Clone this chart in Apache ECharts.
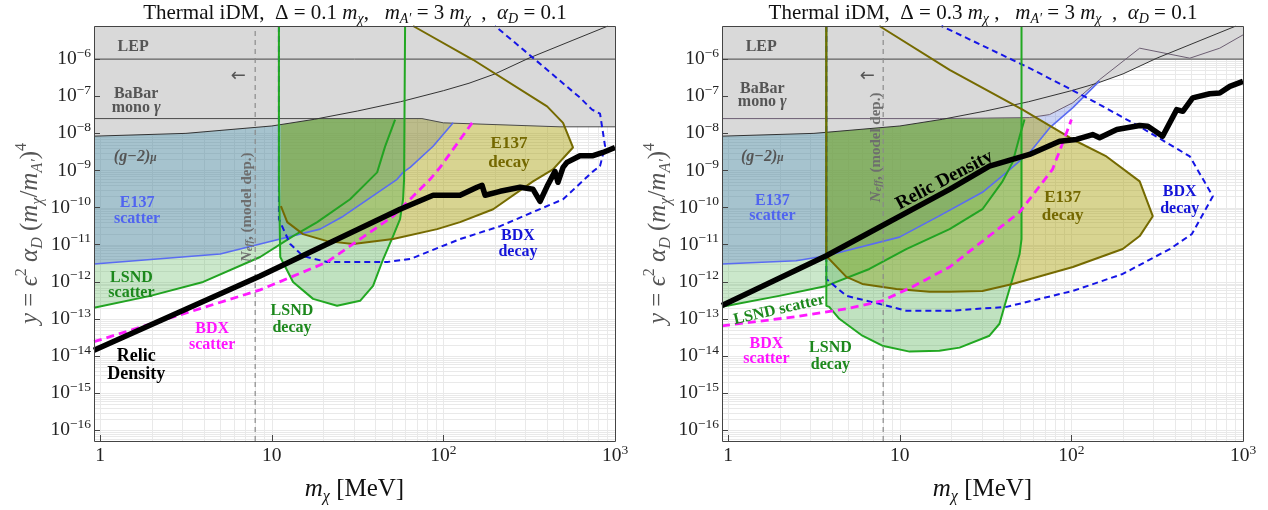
<!DOCTYPE html>
<html><head><meta charset="utf-8"><title>Thermal iDM</title>
<script src="https://cdn.jsdelivr.net/npm/echarts/dist/echarts.min.js"></script>
<style>html,body{margin:0;padding:0;background:#fff}#chart{width:1268px;height:510px}</style>
</head><body><div id="chart"></div>
<script>
// ---------------- axis ranges ----------------
const XMIN = 0.92, XMAX = 1000;
const YMIN = 5.16e-17, YMAX = 7.8e-6;
const TOP = YMAX;

const xTickValues = [1, 10, 100, 1000];
const yTickValues = [1e-16,1e-15,1e-14,1e-13,1e-12,1e-11,1e-10,1e-9,1e-8,1e-7,1e-6];
const deltaValues = ['0.1', '0.3'];

// ---------------- shared bounds ----------------
const lepBound = [[0.92,1e-6],[1000,1e-6]];
const g2Bound = [[0.92,8.4e-9],[3.16,1.0e-8],[10,1.58e-8],[17.8,2.4e-8],[31.6,4.0e-8],[56.2,7.1e-8],[100,1.41e-7],[141,2.24e-7],[200,4.0e-7],[316,1.07e-6],[562,3.16e-6],[910,7.8e-6]];
const neffMass = 8;

// ---------------- left panel (Delta = 0.1 m_chi) ----------------
const babarL = [[0.92,2.5e-8],[75,2.5e-8],[100,1.92e-8],[478,1.5e-8],[1000,1.5e-8]];
const relicL = [[0.92,1.43e-14],[8.55,1.44e-12],[55.9,9.05e-11],[87.1,2.15e-10],[125,2.15e-10],[157,3.52e-10],[168,3.98e-10],[175,2.15e-10],[214,2.75e-10],[280,3.52e-10],[333,3.11e-10],[366,1.48e-10],[402,3.75e-10],[447,9.46e-10],[465,4.8e-10],[498,1.21e-9],[525,1.65e-9],[625,2.5e-9],[745,2.5e-9],[851,3.06e-9],[1000,4.17e-9]];
const e137ScatterL = [[0.92,3.03e-12],[5.0,5.61e-12],[8.55,1.04e-11],[19.1,2.63e-11],[26.1,5.87e-11],[53.7,5.77e-10],[58.2,8.89e-10],[64,1.21e-9],[87.1,4.5e-9],[114,1.92e-8]];
const lsndScatterL = [[0.92,2.0e-13],[1.96,4.19e-13],[3.98,9.95e-13],[8.55,4.67e-12],[13.3,1.71e-11],[18.4,4.06e-11],[28.6,1.68e-10],[37.4,5.77e-10],[41.1,8.89e-10],[45.7,4.4e-9],[52.3,2.35e-8]];
const lsndDecayL = [[11.0,TOP],[11.0,5.77e-10],[11.2,4.67e-12],[13.3,9.95e-13],[17.4,3.48e-13],[24.0,2.26e-13],[32.7,3.08e-13],[38.9,7.77e-13],[44.6,4.12e-12],[50.9,1.71e-11],[55.9,4.88e-11],[58.2,1.68e-10],[59.0,5.77e-10],[59.8,TOP]];
const e137DecayL = [[11.3,TOP],[11.3,1.09e-10],[12.3,4.06e-11],[15.2,1.93e-11],[21.0,1.25e-11],[29.8,1.04e-11],[50.9,1.42e-11],[91.9,2.63e-11],[125,4.06e-11],[195,9.05e-11],[333,5.1e-10],[435,1.07e-9],[569,4.17e-9],[498,1.92e-8],[402,5.35e-8],[149,9.6e-7],[66.6,TOP]];
const bdxDecayL = [[11.0,TOP],[11.0,4.88e-11],[12.8,1.04e-11],[15.2,4.96e-12],[21.0,3.42e-12],[47.0,3.42e-12],[64.0,4.12e-12],[125,1.42e-11],[214,3.16e-11],[498,1.68e-10],[745,9.46e-10],[818,1.31e-9],[875,4.52e-9],[851,1.05e-8],[818,3.41e-8],[735,4.36e-8],[625,9.16e-8],[333,1.08e-6],[200,TOP]];
const bdxScatterL = [[0.92,2.44e-14],[2.46,1.01e-13],[8.55,6.07e-13],[21.0,3.42e-12],[50.9,5.87e-11],[83.6,5.77e-10],[95.6,1.21e-9],[147,1.92e-8]];

// ---------------- right panel (Delta = 0.3 m_chi) ----------------
const babarR = [[0.92,2.5e-8],[17,2.5e-8],[57,2.66e-8],[74.6,3.2e-8],[102,6.7e-8],[146,2.8e-7],[250,1.97e-6],[490,1.06e-6],[732,1.97e-6],[1000,4.49e-6]];
const relicR = [[0.92,2.30e-13],[3.73,5.05e-12],[19.5,3.11e-10],[33.3,1.31e-9],[57.0,2.70e-9],[85.3,6.15e-9],[107,6.84e-9],[133,9.3e-9],[146,7.6e-9],[184,1.27e-8],[250,1.62e-8],[279,1.56e-8],[340,8.4e-9],[411,4.36e-8],[446,3.93e-8],[509,8.99e-8],[640,1.17e-7],[732,1.22e-7],[838,1.84e-7],[1000,2.51e-7]];
const e137ScatterR = [[0.92,3.03e-12],[2.49,3.71e-12],[3.73,5.05e-12],[9.95,1.6e-11],[17.0,5.98e-11],[30.3,2.59e-10],[41.9,8.89e-10],[51.2,1.99e-9],[57.0,3.0e-9],[74.6,1.4e-8],[102,4.93e-8],[146,2.6e-7]];
const lsndScatterR = [[0.92,2.12e-13],[1.98,4.19e-13],[3.73,7.77e-13],[6.65,2.22e-12],[10.9,7.64e-12],[19.5,2.63e-11],[30.3,9.05e-11],[39.7,5.1e-10],[45.4,1.65e-9],[49.9,8.2e-9],[53.3,2.35e-8]];
const lsndDecayR = [[3.73,TOP],[3.73,2.26e-13],[3.88,2.12e-13],[4.44,1.01e-13],[6.05,3.54e-14],[7.91,1.91e-14],[11.4,1.32e-14],[17.0,1.40e-14],[22.3,1.69e-14],[33.3,3.54e-14],[38.1,7.43e-14],[40.8,2.26e-13],[44.8,9.95e-13],[49.9,5.61e-12],[51.2,1.42e-11],[51.2,TOP]];
const e137DecayR = [[3.73,TOP],[3.73,4.96e-12],[4.88,1.36e-12],[6.05,8.79e-13],[9.55,6.46e-13],[14.9,5.37e-13],[19.5,5.37e-13],[30.3,5.70e-13],[45.4,8.79e-13],[102,2.51e-12],[199,7.64e-12],[250,1.71e-11],[298,5.87e-11],[250,5.1e-10],[160,2.39e-9],[102,6.84e-9],[51.9,4.36e-8],[19.5,5.16e-7],[7.60,TOP]];
const bdxDecayR = [[3.73,TOP],[3.73,1.20e-12],[4.88,4.19e-13],[7.60,2.55e-13],[10.9,1.66e-13],[19.5,1.66e-13],[41.9,2.12e-13],[102,5.70e-13],[199,1.63e-12],[374,7.64e-12],[503,1.93e-11],[667,2.02e-10],[490,2.39e-9],[250,1.52e-8],[123,9.16e-8],[57.0,5.74e-7],[17.5,TOP]];
const bdxScatterR = [[0.92,6.56e-14],[2.49,1.15e-13],[4.88,1.88e-13],[7.91,3.08e-13],[11.8,7.31e-13],[19.5,2.51e-12],[26.5,7.64e-12],[49.9,7.52e-11],[77.6,1.07e-9],[93.8,1.05e-8],[100,2.35e-8]];

// ---------------- styles ----------------
const SERIF = "'Liberation Serif','Times New Roman',serif";
const GRAY_T = '#555555', BLUE_T = '#5064f0', GREEN_T = '#1c881c', MAG_T = '#ff14ff', OLIVE_T = '#746800', BLUE2_T = '#1414d8';
const FILL_GREEN = 'rgba(98,184,98,0.33)', FILL_GREEN2 = 'rgba(80,175,80,0.36)', FILL_BLUE = 'rgba(72,100,215,0.28)', FILL_OLIVE = 'rgba(168,159,11,0.45)', FILL_GRAY = '#d9d9d9';

// annotation text (positions in data coordinates)
const labelsL = [
  {at:[1.556,2.14e-6], text:'{b|LEP}', color:GRAY_T, size:16},
  {at:[1.62,7.6e-8], text:'{b|BaBar}\n{b|mono }{i|γ}', color:GRAY_T, size:16, lh:14},
  {at:[1.60,2.39e-9], text:'{i|(g−2)}{sb|μ}', color:GRAY_T, size:16},
  {at:[1.64,8.0e-11], text:'{b|E137}\n{b|scatter}', color:BLUE_T, size:16, lh:16},
  {at:[1.52,7.8e-13], text:'{b|LSND}\n{b|scatter}', color:GREEN_T, size:16, lh:15},
  {at:[1.62,5.5e-15], text:'{b|Relic}\n{b|Density}', color:'#000', size:18, lh:18},
  {at:[4.49,3.3e-14], text:'{b|BDX}\n{b|scatter}', color:MAG_T, size:16, lh:16},
  {at:[13.1,9.5e-14], text:'{b|LSND}\n{b|decay}', color:GREEN_T, size:16, lh:17},
  {at:[241,2.88e-9], text:'{b|E137}\n{b|decay}', color:OLIVE_T, size:17, lh:19},
  {at:[272,1.04e-11], text:'{b|BDX}\n{b|decay}', color:BLUE2_T, size:16, lh:16},
  {at:[7.18,1.02e-10], text:'{i|N}{sbi|eff}{b|, (model dep.)}', color:'#6e6e6e', size:15, rotate:90},
  {at:[6.37,3.35e-7], text:'{a|←}', color:GRAY_T, size:18}
];
const labelsR = [
  {at:[1.557,2.14e-6], text:'{b|LEP}', color:GRAY_T, size:16},
  {at:[1.58,1.04e-7], text:'{b|BaBar}\n{b|mono }{i|γ}', color:GRAY_T, size:16, lh:13},
  {at:[1.58,2.39e-9], text:'{i|(g−2)}{sb|μ}', color:GRAY_T, size:16},
  {at:[1.81,9.6e-11], text:'{b|E137}\n{b|scatter}', color:BLUE_T, size:16, lh:15},
  {at:[1.98,1.77e-13], text:'{b|LSND scatter}', color:GREEN_T, size:16, rotate:13},
  {at:[1.67,1.32e-14], text:'{b|BDX}\n{b|scatter}', color:MAG_T, size:16, lh:15},
  {at:[3.94,9.7e-15], text:'{b|LSND}\n{b|decay}', color:GREEN_T, size:16, lh:17},
  {at:[18.2,5.43e-10], text:'{b|Relic Density}', color:'#000', size:19, rotate:28},
  {at:[88.9,1.09e-10], text:'{b|E137}\n{b|decay}', color:OLIVE_T, size:17, lh:18},
  {at:[428,1.58e-10], text:'{b|BDX}\n{b|decay}', color:BLUE2_T, size:16, lh:17},
  {at:[7.30,4.17e-9], text:'{i|N}{sbi|eff}{b|, (model dep.)}', color:'#6e6e6e', size:15, rotate:90},
  {at:[6.47,3.35e-7], text:'{a|←}', color:GRAY_T, size:18}
];

// grid line values (minor log grid)
const xGridValues = [], yGridValues = [];
for (let e = 0; e <= 3; e++) for (let k = 1; k <= 9; k++) { const v = k * Math.pow(10, e); if (v >= XMIN && v <= XMAX) xGridValues.push(v); }
for (let e = -17; e <= -6; e++) for (let k = 1; k <= 9; k++) { const v = k * Math.pow(10, e); if (v > YMIN && v < YMAX) yGridValues.push(v); }

// ---------------- helpers ----------------
const series = [];
function add(s) { series.push(Object.assign({animation:false, silent:true}, s)); }

function gridLines(ax) {
  add({type:'custom', xAxisIndex:ax, yAxisIndex:ax, z:1, data:[[1,1e-10]],
    renderItem:(p, api) => {
      const ch = [];
      xGridValues.forEach(v => { const a = api.coord([v, YMIN]), b = api.coord([v, YMAX]);
        ch.push({type:'line', shape:{x1:Math.round(a[0])+0.5, y1:a[1], x2:Math.round(b[0])+0.5, y2:b[1]}, style:{stroke:'#e9e9e9', lineWidth:1}}); });
      yGridValues.forEach(v => { const a = api.coord([XMIN, v]), b = api.coord([XMAX, v]);
        ch.push({type:'line', shape:{x1:a[0], y1:Math.round(a[1])+0.5, x2:b[0], y2:Math.round(b[1])+0.5}, style:{stroke:'#e9e9e9', lineWidth:1}}); });
      return {type:'group', children:ch};
    }});
}
function frame(ax) {
  add({type:'custom', xAxisIndex:ax, yAxisIndex:ax, z:9, data:[[1,1e-10]],
    renderItem:(p, api) => {
      const a = api.coord([XMIN, YMAX]), b = api.coord([XMAX, YMIN]);
      return {type:'rect', shape:{x:Math.round(a[0])+0.5, y:Math.round(a[1])+0.5, width:Math.round(b[0]-a[0]), height:Math.round(b[1]-a[1])}, style:{fill:'none', stroke:'#444', lineWidth:1}};
    }});
}
function polygon(ax, pts, fill, z) {
  add({type:'custom', xAxisIndex:ax, yAxisIndex:ax, z:z, clip:true, data:[[1,1e-10]],
    renderItem:(p, api) => ({type:'polygon', shape:{points: pts.map(q => api.coord(q))}, style:{fill:fill, lineWidth:0}})});
}
function line(ax, pts, color, width, dash, z) {
  add({type:'line', xAxisIndex:ax, yAxisIndex:ax, data:pts, symbol:'none', showSymbol:false, z:z || 5, clip:true,
    lineStyle:{color:color, width:width, type:dash || 'solid', cap:'butt', join:'round'}, emphasis:{disabled:true}});
}
function textRich(color, size, lh) {
  const L = lh || size;
  return {
    b:{fontFamily:SERIF, fontWeight:'bold', fontSize:size, fill:color, lineHeight:L},
    i:{fontFamily:SERIF, fontWeight:'bold', fontStyle:'italic', fontSize:size, fill:color, lineHeight:L},
    sb:{fontFamily:SERIF, fontWeight:'bold', fontStyle:'italic', fontSize:size*0.72, fill:color, lineHeight:size*0.45, verticalAlign:'bottom'},
    sbi:{fontFamily:SERIF, fontWeight:'bold', fontStyle:'italic', fontSize:size*0.7, fill:color, lineHeight:size*0.45, verticalAlign:'bottom'},
    a:{fontFamily:"'DejaVu Sans',sans-serif", fontSize:size, fill:color, lineHeight:L}
  };
}
function labels(ax, list) {
  add({type:'custom', xAxisIndex:ax, yAxisIndex:ax, z:8, data:[[1,1e-10]],
    renderItem:(p, api) => ({type:'group', children: list.map(l => {
      const c = api.coord(l.at);
      return {type:'text', x:c[0], y:c[1], rotation:(l.rotate || 0) * Math.PI / 180,
        style:{text:l.text, rich:textRich(l.color, l.size, l.lh), fill:l.color, align:'center', verticalAlign:'middle'}};
    })})});
}
function upTo(pts) { return pts.concat([[pts[pts.length-1][0], TOP], [XMIN, TOP]]); }
function above(pts) { return pts.concat([[XMAX, TOP], [XMIN, TOP]]); }

function panel(ax, d) {
  gridLines(ax);
  // coloured exclusion fills
  polygon(ax, upTo(d.lsndScatter), FILL_GREEN, 2);
  polygon(ax, upTo(d.e137Scatter), FILL_BLUE, 2);
  polygon(ax, d.e137Decay, FILL_OLIVE, 2);
  polygon(ax, d.lsndDecay, FILL_GREEN2, 2);
  // gray LEP / BaBar / (g-2) region
  polygon(ax, above(lepBound), FILL_GRAY, 3);
  polygon(ax, above(d.babar), FILL_GRAY, 3);
  polygon(ax, above(g2Bound), FILL_GRAY, 3);
  // boundaries
  line(ax, lepBound, '#444', 1, null, 4);
  line(ax, d.babar, d.babarColor, 1, null, 4);
  line(ax, g2Bound, '#333', 1, null, 4);
  line(ax, d.e137Scatter, '#5a6cf2', 1.6, null, 5);
  line(ax, d.lsndScatter, '#22a322', 2, null, 5);
  line(ax, d.bdxDecay, '#1515e6', 2, [6,4], 5);
  line(ax, d.lsndDecay, '#22a822', 2, null, 5);
  line(ax, d.e137DecayLine, '#756a00', 2, null, 5);
  line(ax, [[neffMass, YMIN],[neffMass, YMAX]], '#8a8a8a', 1.2, [5,4], 5);
  line(ax, d.bdxScatter, '#ff1aff', 2.8, [8,5], 6);
  line(ax, d.relic, '#000', 5.5, null, 7);
  labels(ax, d.labels);
  frame(ax);
}

panel(0, {babar:babarL, babarColor:'#4a4a4a', relic:relicL, e137Scatter:e137ScatterL, lsndScatter:lsndScatterL, lsndDecay:lsndDecayL,
  e137Decay:e137DecayL, e137DecayLine:e137DecayL.slice(1), bdxDecay:bdxDecayL, bdxScatter:bdxScatterL, labels:labelsL});
panel(1, {babar:babarR, babarColor:'#6d5f73', relic:relicR, e137Scatter:e137ScatterR, lsndScatter:lsndScatterR, lsndDecay:lsndDecayR,
  e137Decay:e137DecayR, e137DecayLine:e137DecayR, bdxDecay:bdxDecayR, bdxScatter:bdxScatterR, labels:labelsR});

// ---------------- axes ----------------
function tickFmt(v) {
  const e = Math.round(Math.log10(v));
  if (e === 0) return '{n|1}';
  if (e === 1) return '{n|10}';
  return '{n|10}{s|' + (e < 0 ? '−' + (-e) : e) + '}';
}
const tickRich = {
  n:{fontFamily:SERIF, fontSize:19.5, color:'#222', lineHeight:26},
  s:{fontFamily:SERIF, fontSize:13.5, color:'#222', lineHeight:13, verticalAlign:'top'}
};
const nameRich = (color) => ({
  r:{fontFamily:SERIF, fontSize:25, color:color, lineHeight:32},
  i:{fontFamily:SERIF, fontStyle:'italic', fontSize:25, color:color, lineHeight:32},
  sp:{fontFamily:SERIF, fontSize:16, color:color, lineHeight:16, verticalAlign:'top'},
  sb:{fontFamily:SERIF, fontSize:16, color:color, lineHeight:19, verticalAlign:'bottom'},
  sbi:{fontFamily:SERIF, fontStyle:'italic', fontSize:16, color:color, lineHeight:19, verticalAlign:'bottom'}
});
function xAxis(ax) {
  return {type:'log', gridIndex:ax, min:XMIN, max:XMAX, z:10,
    axisLine:{show:false}, splitLine:{show:false},
    axisTick:{show:true, inside:true, length:6, customValues:xTickValues, lineStyle:{color:'#444', width:1}},
    axisLabel:{customValues:xTickValues, formatter:tickFmt, rich:tickRich, margin:2},
    name:'{i|m}{sbi|χ}{r| [MeV]}', nameLocation:'middle', nameGap:32, nameTextStyle:{rich:nameRich('#111')}};
}
function yAxis(ax) {
  return {type:'log', gridIndex:ax, min:YMIN, max:YMAX, z:10,
    axisLine:{show:false}, splitLine:{show:false},
    axisTick:{show:true, inside:true, length:6, customValues:yTickValues, lineStyle:{color:'#444', width:1}},
    axisLabel:{customValues:yTickValues, formatter:tickFmt, rich:tickRich, margin:3},
    name:'{i|y}{r| = }{i|ϵ}{sp|2}{r| }{i|α}{sbi|D}{r| (}{i|m}{sbi|χ}{r|/}{i|m}{sbi|A′}{r|)}{sp|4}',
    nameLocation:'middle', nameRotate:90, nameGap:48, nameTextStyle:{rich:nameRich('#555')}};
}

const titleRich = {
  r:{fontFamily:SERIF, fontSize:21, fill:'#111', lineHeight:26},
  i:{fontFamily:SERIF, fontStyle:'italic', fontSize:21, fill:'#111', lineHeight:26},
  s:{fontFamily:SERIF, fontStyle:'italic', fontSize:14, fill:'#111', lineHeight:16, verticalAlign:'bottom'}
};
function titleText(d, sep) {
  return '{r|Thermal iDM,  Δ = ' + d + ' }{i|m}{s|χ}{r|' + sep + '   }{i|m}{s|A′}{r| = 3 }{i|m}{s|χ}{r|  ,  }{i|α}{s|D}{r| = 0.1}';
}

const chart = echarts.init(document.getElementById('chart'), null, {renderer:'canvas'});
chart.setOption({
  animation:false,
  backgroundColor:'#fff',
  grid:[{left:94, top:26, width:521, height:417, show:false}, {left:722, top:26, width:521, height:417, show:false}],
  xAxis:[xAxis(0), xAxis(1)],
  yAxis:[yAxis(0), yAxis(1)],
  graphic:[
    {type:'text', x:355, y:13, style:{text:titleText(deltaValues[0], ','), rich:titleRich, fill:'#111', align:'center', verticalAlign:'middle'}},
    {type:'text', x:983, y:13, style:{text:titleText(deltaValues[1], ' ,'), rich:titleRich, fill:'#111', align:'center', verticalAlign:'middle'}}
  ],
  series:series
});
</script></body></html>
